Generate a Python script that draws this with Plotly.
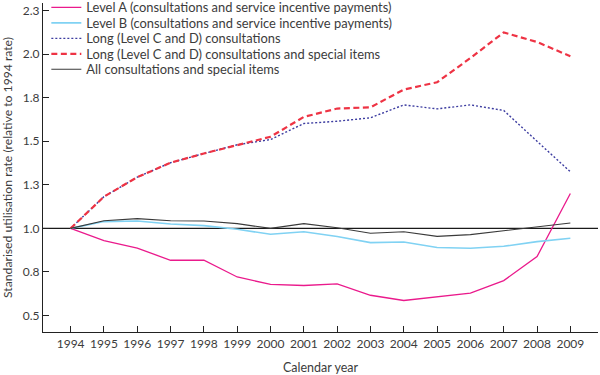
import plotly.graph_objects as go

years = list(range(1994, 2010))
level_a = [1.0, 0.93, 0.886, 0.817, 0.817, 0.721, 0.678, 0.672, 0.681, 0.616, 0.586, 0.609, 0.628, 0.70, 0.838, 1.20]
level_b = [1.0, 1.039, 1.042, 1.025, 1.016, 0.995, 0.966, 0.981, 0.953, 0.918, 0.922, 0.89, 0.886, 0.897, 0.924, 0.943]
long_cd = [1.0, 1.182, 1.294, 1.377, 1.43, 1.48, 1.51, 1.602, 1.615, 1.635, 1.709, 1.686, 1.709, 1.677, 1.50, 1.325]
long_cd_special = [1.0, 1.182, 1.294, 1.377, 1.43, 1.48, 1.526, 1.64, 1.688, 1.695, 1.797, 1.839, 1.978, 2.125, 2.07, 1.988]
all_cons = [1.0, 1.044, 1.056, 1.044, 1.042, 1.027, 1.0, 1.027, 1.004, 0.972, 0.981, 0.954, 0.964, 0.985, 1.01, 1.031]

names = [
    "Level A (consultations and service incentive payments)",
    "Level B (consultations and service incentive payments)",
    "Long (Level C and D) consultations",
    "Long (Level C and D) consultations and special items",
    "All consultations and special items",
]
ytickvals = [0.5, 0.75, 1.0, 1.25, 1.5, 1.75, 2.0, 2.25]
yticktext = ["0.5", "0.8", "1.0", "1.3", "1.5", "1.8", "2.0", "2.3"]

FONT = "Lato"
TXT = "#3c3c3c"

series = [
    (level_a, dict(color="#ea1a8c", width=1.3)),
    (level_b, dict(color="#80d2f3", width=1.6)),
    (long_cd, dict(color="#3c3ca0", width=1.4, dash="2px,2px")),
    (long_cd_special, dict(color="#ee3344", width=2.2, dash="6px,3.5px")),
    (all_cons, dict(color="#3a3a3a", width=1.1)),
]

fig = go.Figure()
for i, (vals, ln) in enumerate(series):
    fig.add_trace(go.Scatter(x=years, y=vals, mode="lines", name=names[i], line=ln,
                             legend="legend" if i == 0 else f"legend{i+1}"))

fig.add_shape(type="line", xref="paper", yref="y", x0=0, x1=1, y0=1.0, y1=1.0,
              line=dict(color="#1a1a1a", width=1.3), layer="below")

top_px = 3.0
plot_h = 332.3 - 3.0
legend_layouts = {}
for i in range(5):
    yc = 7.5 + 15.5 * i
    key = "legend" if i == 0 else f"legend{i+1}"
    legend_layouts[key] = dict(
        x=0.006, xanchor="left", y=1 - (yc - top_px) / plot_h, yanchor="middle",
        bgcolor="rgba(0,0,0,0)", borderwidth=0, itemwidth=30,
        font=dict(family=FONT, size=12.9, color=TXT),
    )

fig.update_layout(
    width=600, height=375,
    margin=dict(l=43, r=2, t=3, b=43, autoexpand=False),
    paper_bgcolor="white", plot_bgcolor="white",
    font=dict(family=FONT, size=12, color=TXT),
    showlegend=True,
    xaxis=dict(range=[1993.17, 2009.83], tickvals=years, ticktext=[str(y) for y in years],
               ticks="inside", ticklen=6, tickcolor="#222", showline=True, linecolor="#222",
               linewidth=1.3, showgrid=False, zeroline=False, automargin=False,
               title=dict(text="Calendar year", font=dict(size=12.5)),
               tickfont=dict(size=12)),
    yaxis=dict(range=[0.405, 2.294], tickvals=ytickvals, ticktext=yticktext,
               ticks="inside", ticklen=6, tickcolor="#222", showline=True, linecolor="#222",
               linewidth=1.3, showgrid=False, zeroline=False, automargin=False,
               title=dict(text="Standarised utilisation rate (relative to 1994 rate)",
                          font=dict(size=12.2)),
               tickfont=dict(size=12)),
    **legend_layouts,
)

fig.write_html("out.html", config={"displayModeBar": False},
               post_script="document.body.style.margin='0';document.body.style.padding='0';")
